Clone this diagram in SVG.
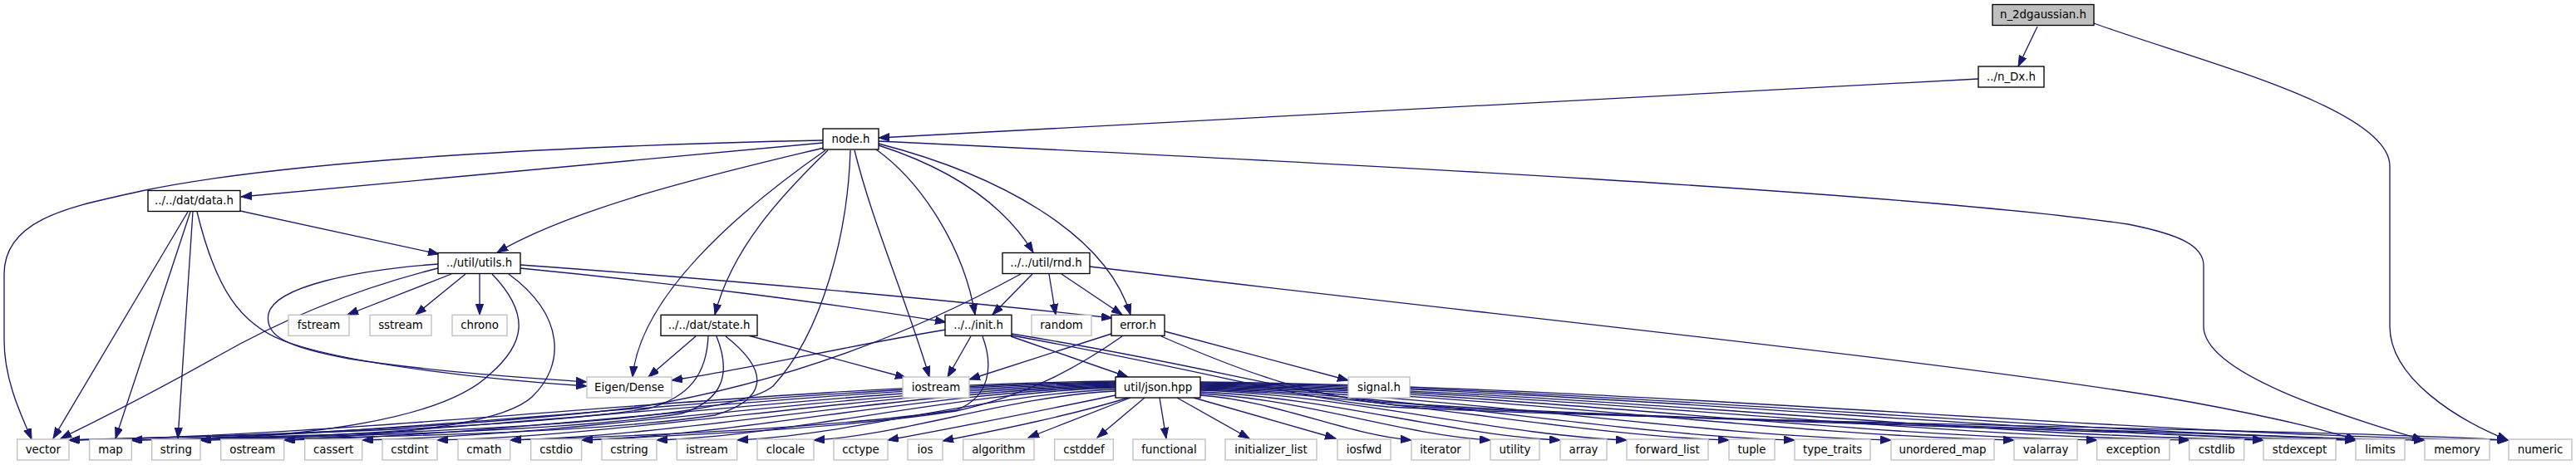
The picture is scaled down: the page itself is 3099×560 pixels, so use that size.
<svg xmlns="http://www.w3.org/2000/svg" width="3099" height="560" viewBox="0 0 3099 560">
<defs>
<style>
.e{fill:none;stroke:#191970;stroke-width:1.33;marker-end:url(#a)}
.n rect{fill:#fff;stroke:#000;stroke-width:1.33}
.x rect{fill:#fff;stroke:#bfbfbf;stroke-width:1.33}
.m rect{fill:#bfbfbf;stroke:#000;stroke-width:1.33}
text{font-family:"DejaVu Sans",sans-serif;font-size:13.33px;text-anchor:middle;fill:#000}
</style>
<marker id="a" markerWidth="14" markerHeight="10" refX="13" refY="4.7" orient="auto" markerUnits="userSpaceOnUse"><path d="M0,0L13,4.7L0,9.4z" fill="#191970" stroke="#191970" stroke-width="1"/></marker>
</defs>
<rect width="3099" height="560" fill="#fff"/>
<g id="edges">
<path class="e" d="M2451,32 L2428,80"/>
<path class="e" d="M2519,28 C2640,72 2875,130 2875,200 L2875,393 C2875,455 2955,505 3017,530"/>
<path class="e" d="M2380,95 L1057,166"/>
<path class="e" d="M990,169 C700,175 350,192 170,230 C90,248 5,262 5,330 L5,410 C5,460 28,505 38,529"/>
<path class="e" d="M990,172 L290,237"/>
<path class="e" d="M995,177 C880,205 700,245 598,304"/>
<path class="e" d="M993,181 C880,260 770,360 761,454"/>
<path class="e" d="M996,181 C940,235 880,300 860,379"/>
<path class="e" d="M1023,181 C1020,280 990,400 930,465 C870,515 400,524 158,530"/>
<path class="e" d="M1028,181 C1050,270 1090,360 1118,454"/>
<path class="e" d="M1054,180 C1110,220 1160,300 1173,379"/>
<path class="e" d="M1057,175 C1150,205 1210,250 1243,304"/>
<path class="e" d="M1057,173 C1200,210 1330,280 1360,379"/>
<path class="e" d="M1057,170 C1600,196 2300,232 2560,270 C2620,282 2651,295 2651,320 L2651,393 C2651,455 2850,510 2915,530"/>
<path class="e" d="M226,255 L64,528"/>
<path class="e" d="M229,255 L139,528"/>
<path class="e" d="M232,255 L214,528"/>
<path class="e" d="M237,255 C260,350 290,390 340,410 C420,440 600,458 706,465"/>
<path class="e" d="M289,254 L528,306"/>
<path class="e" d="M543,330 L418,379"/>
<path class="e" d="M560,330 L500,379"/>
<path class="e" d="M577,330 L577,379"/>
<path class="e" d="M527,323 C420,350 330,390 260,430 C180,475 110,510 73,528"/>
<path class="e" d="M527,318 C430,325 330,345 323,378 C318,405 345,418 420,432 C520,448 640,455 706,460"/>
<path class="e" d="M626,323 C800,340 1000,365 1138,388"/>
<path class="e" d="M626,319 C850,335 1150,362 1338,383"/>
<path class="e" d="M592,330 C640,380 630,415 590,450 C540,500 400,522 241,530"/>
<path class="e" d="M612,330 C680,380 680,440 640,478 C600,515 450,524 342,530"/>
<path class="e" d="M837,405 L780,454"/>
<path class="e" d="M900,404 L1090,455"/>
<path class="e" d="M852,405 C850,450 830,478 780,492 C600,520 200,526 83,530"/>
<path class="e" d="M862,405 C880,450 870,482 820,498 C650,524 300,527 158,530"/>
<path class="e" d="M873,405 C930,450 920,482 860,500 C700,524 400,527 241,530"/>
<path class="e" d="M1138,397 C1000,420 900,445 808,458"/>
<path class="e" d="M1168,405 L1140,454"/>
<path class="e" d="M1216,405 L1357,454"/>
<path class="e" d="M1182,405 C1195,440 1192,478 1150,494 C1000,515 800,524 614,530"/>
<path class="e" d="M1217,402 C1450,440 1550,472 1660,484 C2000,508 2600,516 2835,530"/>
<path class="e" d="M1217,404 C1450,446 1560,480 1670,490 C2100,510 2800,517 3017,530"/>
<path class="e" d="M1337,402 L1166,457"/>
<path class="e" d="M1401,399 L1622,458"/>
<path class="e" d="M1350,405 C1300,440 1240,475 1150,495 C1000,518 800,525 700,530"/>
<path class="e" d="M1397,405 C1500,450 1580,478 1680,488 C2100,510 2600,518 2723,530"/>
<path class="e" d="M1242,330 L1194,379"/>
<path class="e" d="M1262,330 L1270,379"/>
<path class="e" d="M1277,330 L1350,379"/>
<path class="e" d="M1228,330 C1100,400 950,460 770,490 C500,522 200,527 83,530"/>
<path class="e" d="M1311,321 C1800,380 2300,430 2600,478 C2700,495 2790,515 2835,530"/>
<path class="e" d="M1342,459 C901,465 461,524 83,530"/>
<path class="e" d="M1342,460 C928,466 513,524 158,530"/>
<path class="e" d="M1342,461 C957,467 571,524 241,530"/>
<path class="e" d="M1342,462 C992,468 642,524 342,530"/>
<path class="e" d="M1342,463 C1025,469 708,524 436,530"/>
<path class="e" d="M1342,464 C1056,470 771,524 526,530"/>
<path class="e" d="M1342,465 C1087,471 832,524 614,530"/>
<path class="e" d="M1342,466 C1117,472 892,524 700,530"/>
<path class="e" d="M1342,467 C1149,473 956,524 790,530"/>
<path class="e" d="M1342,469 C1183,475 1023,524 887,530"/>
<path class="e" d="M1342,471 C1215,477 1088,524 979,530"/>
<path class="e" d="M1342,476 C1250,495 1150,515 1068,530"/>
<path class="e" d="M1357,479 C1290,500 1200,518 1134,531"/>
<path class="e" d="M1360,479 L1237,527"/>
<path class="e" d="M1377,479 L1320,527"/>
<path class="e" d="M1395,479 L1403,528"/>
<path class="e" d="M1416,479 L1503,528"/>
<path class="e" d="M1436,479 L1607,528"/>
<path class="e" d="M1444,476 C1533,482 1622,524 1698,530"/>
<path class="e" d="M1444,474 C1566,480 1688,524 1793,530"/>
<path class="e" d="M1444,472 C1596,478 1747,524 1877,530"/>
<path class="e" d="M1444,470 C1624,476 1803,524 1957,530"/>
<path class="e" d="M1444,469 C1667,475 1889,524 2080,530"/>
<path class="e" d="M1444,468 C1694,474 1945,524 2159,530"/>
<path class="e" d="M1444,467 C1735,473 2026,524 2275,530"/>
<path class="e" d="M1444,466 C1787,472 2129,524 2423,530"/>
<path class="e" d="M1444,465 C1822,471 2199,524 2523,530"/>
<path class="e" d="M1444,464 C1860,470 2277,524 2634,530"/>
<path class="e" d="M1444,463 C1892,469 2339,524 2723,530"/>
<path class="e" d="M1444,462 C1931,468 2417,524 2834,530"/>
<path class="e" d="M1444,461 C1960,467 2475,524 2917,530"/>
<path class="e" d="M1444,460 C1995,466 2546,524 3018,530"/>
</g>
<g id="node-n_2dgaussian" class="m"><rect x="2397" y="5.5" width="122" height="25"/><text x="2458" y="22.2">n_2dgaussian.h</text></g>
<g id="node-n_Dx" class="n"><rect x="2380" y="80" width="79" height="25"/><text x="2419.5" y="96.7">../n_Dx.h</text></g>
<g id="node-node" class="n"><rect x="990" y="155" width="67" height="25"/><text x="1023.5" y="171.7">node.h</text></g>
<g id="node-data" class="n"><rect x="178" y="229.5" width="111" height="25"/><text x="233.5" y="246.2">../../dat/data.h</text></g>
<g id="node-utils" class="n"><rect x="527" y="304.5" width="99" height="25"/><text x="576.5" y="321.2">../util/utils.h</text></g>
<g id="node-rnd" class="n"><rect x="1206" y="304.5" width="105" height="25"/><text x="1258.5" y="321.2">../../util/rnd.h</text></g>
<g id="node-fstream" class="x"><rect x="347" y="379.3" width="73" height="25"/><text x="383.5" y="396">fstream</text></g>
<g id="node-sstream" class="x"><rect x="445" y="379.3" width="74" height="25"/><text x="482" y="396">sstream</text></g>
<g id="node-chrono" class="x"><rect x="544" y="379.3" width="66" height="25"/><text x="577" y="396">chrono</text></g>
<g id="node-state" class="n"><rect x="795" y="379.3" width="116" height="25"/><text x="853" y="396">../../dat/state.h</text></g>
<g id="node-init" class="n"><rect x="1137" y="379.3" width="80" height="25"/><text x="1177" y="396">../../init.h</text></g>
<g id="node-random" class="x"><rect x="1241" y="379.3" width="72" height="25"/><text x="1277" y="396">random</text></g>
<g id="node-error" class="n"><rect x="1337" y="379.3" width="64" height="25"/><text x="1369" y="396">error.h</text></g>
<g id="node-eigen" class="x"><rect x="706" y="454" width="102" height="25"/><text x="757" y="470.7">Eigen/Dense</text></g>
<g id="node-iostream" class="x"><rect x="1086" y="454" width="80" height="25"/><text x="1126" y="470.7">iostream</text></g>
<g id="node-json" class="n"><rect x="1342" y="454" width="102" height="25"/><text x="1393" y="470.7">util/json.hpp</text></g>
<g id="node-signal" class="x"><rect x="1622" y="454" width="74" height="25"/><text x="1659" y="470.7">signal.h</text></g>
<g id="node-vector" class="x"><rect x="20.7" y="529" width="62.3" height="25"/><text x="51.85" y="545.7">vector</text></g>
<g id="node-map" class="x"><rect x="107.7" y="529" width="50.6" height="25"/><text x="133" y="545.7">map</text></g>
<g id="node-string" class="x"><rect x="182.7" y="529" width="58.3" height="25"/><text x="211.85" y="545.7">string</text></g>
<g id="node-ostream" class="x"><rect x="265.7" y="529" width="76" height="25"/><text x="303.7" y="545.7">ostream</text></g>
<g id="node-cassert" class="x"><rect x="366.7" y="529" width="69" height="25"/><text x="401.2" y="545.7">cassert</text></g>
<g id="node-cstdint" class="x"><rect x="460" y="529" width="66" height="25"/><text x="493" y="545.7">cstdint</text></g>
<g id="node-cmath" class="x"><rect x="551" y="529" width="62.7" height="25"/><text x="582.35" y="545.7">cmath</text></g>
<g id="node-cstdio" class="x"><rect x="638.7" y="529" width="61" height="25"/><text x="669.2" y="545.7">cstdio</text></g>
<g id="node-cstring" class="x"><rect x="724" y="529" width="66" height="25"/><text x="757" y="545.7">cstring</text></g>
<g id="node-istream" class="x"><rect x="814.3" y="529" width="72.4" height="25"/><text x="850.5" y="545.7">istream</text></g>
<g id="node-clocale" class="x"><rect x="911" y="529" width="68" height="25"/><text x="945" y="545.7">clocale</text></g>
<g id="node-cctype" class="x"><rect x="1003" y="529" width="65" height="25"/><text x="1035.5" y="545.7">cctype</text></g>
<g id="node-ios" class="x"><rect x="1092" y="529" width="42" height="25"/><text x="1113" y="545.7">ios</text></g>
<g id="node-algorithm" class="x"><rect x="1158.7" y="529" width="85.3" height="25"/><text x="1201.35" y="545.7">algorithm</text></g>
<g id="node-cstddef" class="x"><rect x="1268.7" y="529" width="70.6" height="25"/><text x="1304" y="545.7">cstddef</text></g>
<g id="node-functional" class="x"><rect x="1363" y="529" width="87" height="25"/><text x="1406.5" y="545.7">functional</text></g>
<g id="node-initializer_list" class="x"><rect x="1474" y="529" width="110" height="25"/><text x="1529" y="545.7">initializer_list</text></g>
<g id="node-iosfwd" class="x"><rect x="1609" y="529" width="64" height="25"/><text x="1641" y="545.7">iosfwd</text></g>
<g id="node-iterator" class="x"><rect x="1698" y="529" width="70" height="25"/><text x="1733" y="545.7">iterator</text></g>
<g id="node-utility" class="x"><rect x="1793" y="529" width="59" height="25"/><text x="1822.5" y="545.7">utility</text></g>
<g id="node-array" class="x"><rect x="1877" y="529" width="56" height="25"/><text x="1905" y="545.7">array</text></g>
<g id="node-forward_list" class="x"><rect x="1957" y="529" width="98" height="25"/><text x="2006" y="545.7">forward_list</text></g>
<g id="node-tuple" class="x"><rect x="2080" y="529" width="55" height="25"/><text x="2107.5" y="545.7">tuple</text></g>
<g id="node-type_traits" class="x"><rect x="2159" y="529" width="91" height="25"/><text x="2204.5" y="545.7">type_traits</text></g>
<g id="node-unordered_map" class="x"><rect x="2275" y="529" width="124" height="25"/><text x="2337" y="545.7">unordered_map</text></g>
<g id="node-valarray" class="x"><rect x="2423" y="529" width="76" height="25"/><text x="2461" y="545.7">valarray</text></g>
<g id="node-exception" class="x"><rect x="2522.7" y="529" width="87.3" height="25"/><text x="2566.35" y="545.7">exception</text></g>
<g id="node-cstdlib" class="x"><rect x="2633.7" y="529" width="66" height="25"/><text x="2666.7" y="545.7">cstdlib</text></g>
<g id="node-stdexcept" class="x"><rect x="2723" y="529" width="87" height="25"/><text x="2766.5" y="545.7">stdexcept</text></g>
<g id="node-limits" class="x"><rect x="2834" y="529" width="59" height="25"/><text x="2863.5" y="545.7">limits</text></g>
<g id="node-memory" class="x"><rect x="2917" y="529" width="78" height="25"/><text x="2956" y="545.7">memory</text></g>
<g id="node-numeric" class="x"><rect x="3018" y="529" width="76" height="25"/><text x="3056" y="545.7">numeric</text></g>
</svg>
